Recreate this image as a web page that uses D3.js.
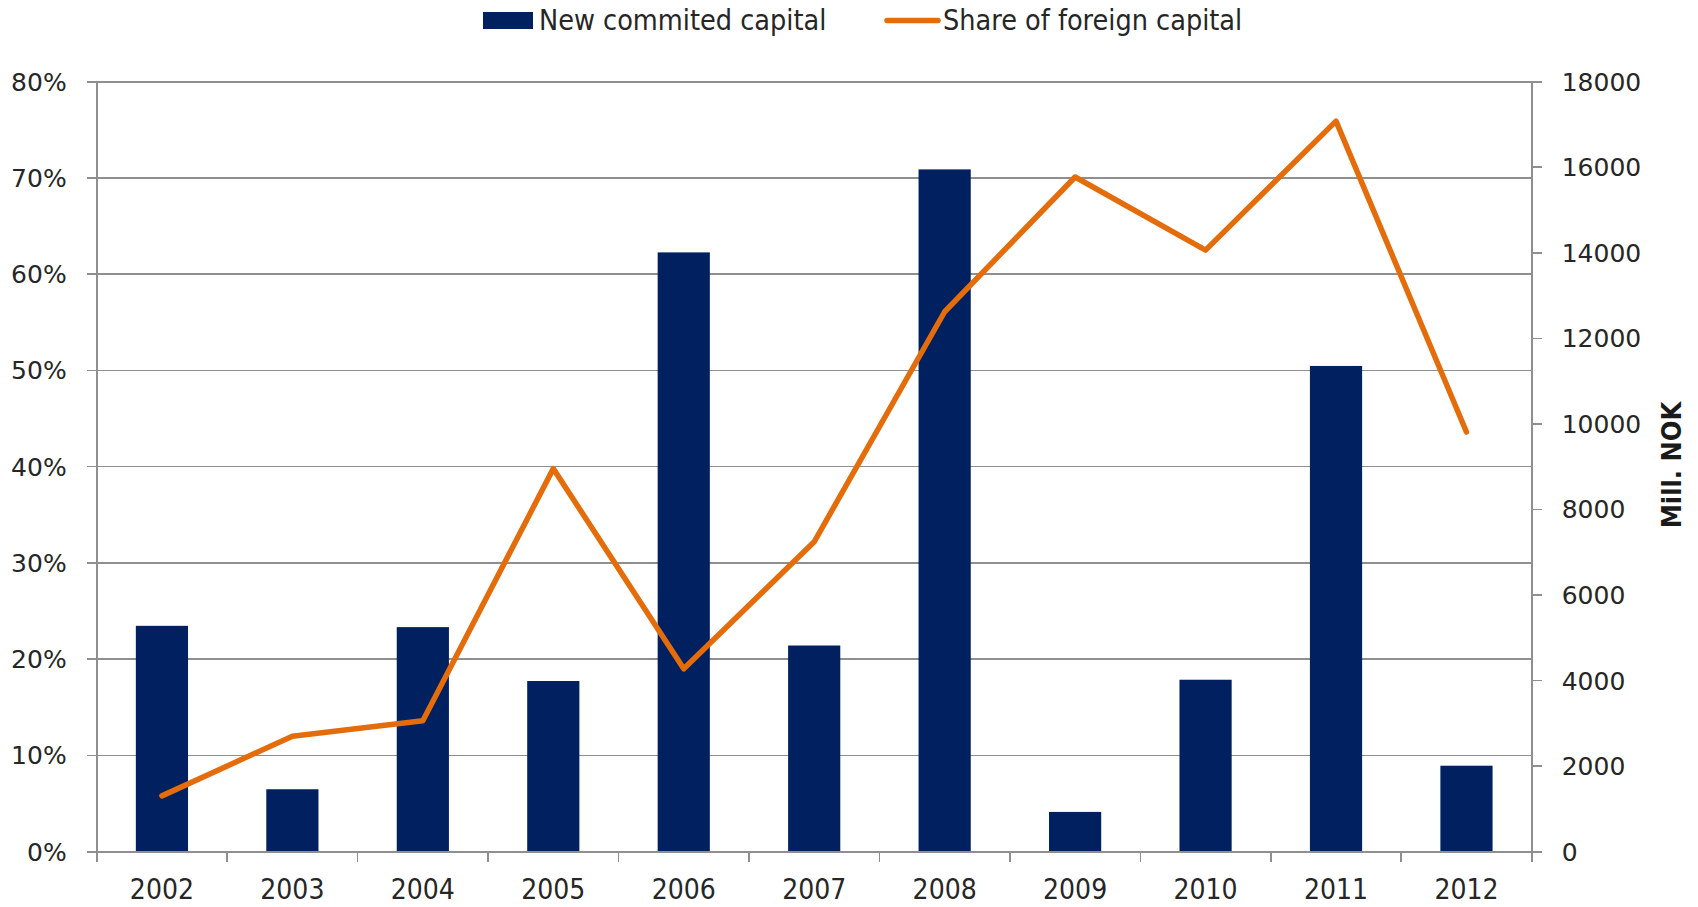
<!DOCTYPE html>
<html>
<head>
  <meta charset="utf-8">
  <script src="https://cdn.jsdelivr.net/npm/d3@7"></script>
  <style type="text/css">
    body {
      margin: 0;
      background: #fff;
    }
    .grid line, .axis-line {
      stroke: #8f8f8f;
      stroke-width: 1.6px;
      shape-rendering: crispEdges;
    }
    .ylab {
      font-family: "DejaVu Sans", sans-serif;
      font-size: 25px;
      fill: #262626;
    }
    .xlab, .legend text {
      font-family: "DejaVu Sans Condensed", "DejaVu Sans", sans-serif;
      font-stretch: condensed;
      font-size: 28.5px;
      fill: #262626;
    }
    .xlab {
      font-size: 28px;
    }
    .title-right {
      font-family: "DejaVu Sans Condensed", "DejaVu Sans", sans-serif;
      font-stretch: condensed;
      font-weight: bold;
      font-size: 27px;
      fill: #1a1a1a;
    }
  </style>
</head>
<body>
  <script type="text/javascript">

  // data
  const years = ['2002', '2003', '2004', '2005', '2006', '2007', '2008', '2009', '2010', '2011', '2012'];
  const committed = [5280, 1460, 5250, 3990, 14010, 4820, 15950, 930, 4020, 11355, 2010];   // Mill. NOK
  const foreignShare = [5.8, 12.0, 13.6, 39.8, 19.0, 32.2, 56.1, 70.1, 62.5, 75.9, 43.6];   // percent
  const pctTicks = [0, 10, 20, 30, 40, 50, 60, 70, 80];
  const nokTicks = [0, 2000, 4000, 6000, 8000, 10000, 12000, 14000, 16000, 18000];

  const W = 1698, H = 907;
  const margin = {top: 81.7, bottom: 55.3, left: 96.7, right: 166.3};
  const width = W - margin.left - margin.right;
  const height = H - margin.top - margin.bottom;

  const barColor = '#002060';
  const lineColor = '#e46c0a';

  const svg = d3.select('body').append('svg')
    .attr('width', W)
    .attr('height', H);

  const g = svg.append('g')
    .attr('transform', `translate(${margin.left},${margin.top})`);

  // scales
  const x = d3.scaleBand().domain(years).range([0, width])
    .paddingInner(0.6).paddingOuter(0.3);
  const xCells = d3.scaleBand().domain(years).range([0, width]);
  const yPct = d3.scaleLinear().domain([0, 80]).range([height, 0]);
  const yNok = d3.scaleLinear().domain([0, 18000]).range([height, 0]);

  // gridlines from the left axis, with the outward tick
  g.append('g').attr('class', 'grid')
    .selectAll('line').data(pctTicks).join('line')
    .attr('x1', -10).attr('x2', width)
    .attr('y1', d => yPct(d)).attr('y2', d => yPct(d));

  // bars
  g.selectAll('rect.bar').data(committed).join('rect')
    .attr('class', 'bar')
    .attr('x', (d, i) => x(years[i]))
    .attr('width', x.bandwidth())
    .attr('y', d => yNok(d))
    .attr('height', d => height - yNok(d))
    .attr('fill', barColor);

  // axis lines
  g.append('line').attr('class', 'axis-line')
    .attr('x1', 0).attr('x2', 0).attr('y1', 0).attr('y2', height);
  g.append('line').attr('class', 'axis-line')
    .attr('x1', width).attr('x2', width).attr('y1', 0).attr('y2', height);
  g.append('line').attr('class', 'axis-line')
    .attr('x1', 0).attr('x2', width).attr('y1', height).attr('y2', height);

  // bottom ticks at category edges
  const edges = years.map(d => xCells(d)).concat([width]);
  g.selectAll('line.xtick').data(edges).join('line')
    .attr('class', 'axis-line xtick')
    .attr('x1', d => d).attr('x2', d => d)
    .attr('y1', height).attr('y2', height + 10);

  // right ticks
  g.selectAll('line.rtick').data(nokTicks).join('line')
    .attr('class', 'axis-line rtick')
    .attr('x1', width).attr('x2', width + 10)
    .attr('y1', d => yNok(d)).attr('y2', d => yNok(d));

  // line series
  const line = d3.line()
    .x((d, i) => x(years[i]) + x.bandwidth() / 2)
    .y(d => yPct(d));

  g.append('path')
    .datum(foreignShare)
    .attr('d', line)
    .attr('fill', 'none')
    .attr('stroke', lineColor)
    .attr('stroke-width', 5.5)
    .attr('stroke-linejoin', 'round')
    .attr('stroke-linecap', 'round');

  // labels
  g.selectAll('text.xlab').data(years).join('text')
    .attr('class', 'xlab')
    .attr('x', d => xCells(d) + xCells.bandwidth() / 2)
    .attr('y', height + 47)
    .attr('text-anchor', 'middle')
    .text(d => d);

  g.selectAll('text.lpct').data(pctTicks).join('text')
    .attr('class', 'ylab lpct')
    .attr('x', -30)
    .attr('y', d => yPct(d))
    .attr('dy', '0.36em')
    .attr('text-anchor', 'end')
    .text(d => d + '%');

  g.selectAll('text.rnok').data(nokTicks).join('text')
    .attr('class', 'ylab rnok')
    .attr('x', width + 30)
    .attr('y', d => yNok(d))
    .attr('dy', '0.36em')
    .attr('text-anchor', 'start')
    .text(d => d);

  svg.append('text')
    .attr('class', 'title-right')
    .attr('transform', `translate(1681,465) rotate(-90)`)
    .attr('text-anchor', 'middle')
    .text('Mill. NOK');

  // legend
  const legend = svg.append('g').attr('class', 'legend');
  legend.append('rect')
    .attr('x', 483).attr('y', 12).attr('width', 50).attr('height', 17)
    .attr('fill', barColor);
  legend.append('text')
    .attr('x', 539).attr('y', 30)
    .text('New commited capital');
  legend.append('line')
    .attr('x1', 887).attr('x2', 938).attr('y1', 20.5).attr('y2', 20.5)
    .attr('stroke', lineColor).attr('stroke-width', 5.5)
    .attr('stroke-linecap', 'round');
  legend.append('text')
    .attr('x', 943).attr('y', 30)
    .text('Share of foreign capital');

  </script>
</body>
</html>
